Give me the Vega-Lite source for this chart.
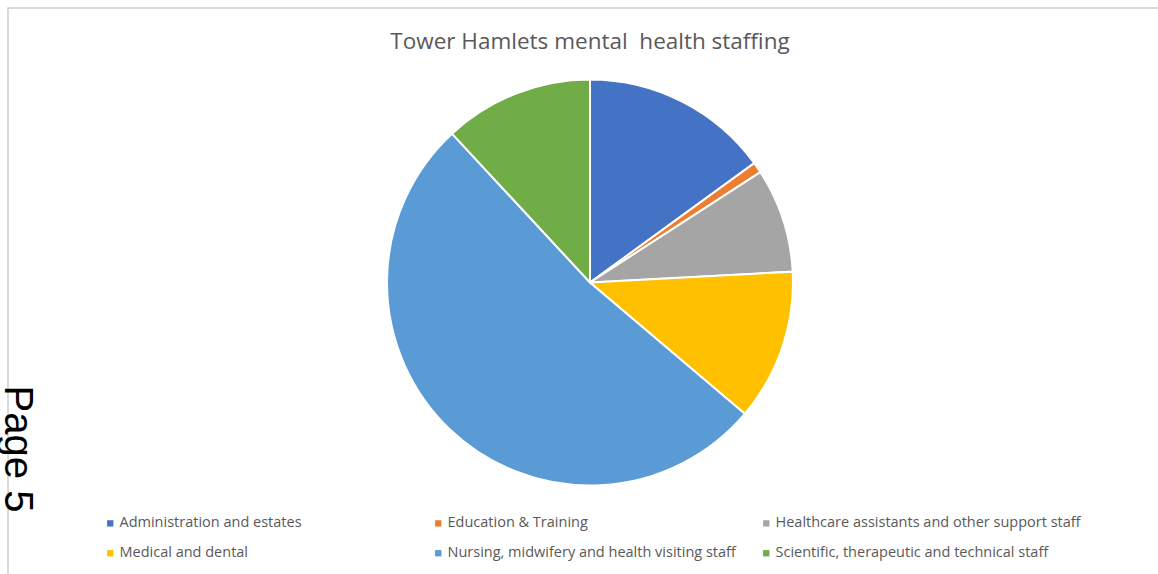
{
  "$schema": "https://vega.github.io/schema/vega-lite/v6.json",
  "autosize": {"type": "none"},
  "width": 1164,
  "height": 567,
  "padding": {"left": 8, "top": 8, "right": -14, "bottom": -1},
  "background": "white",
  "view": {"stroke": "#cfcfcf", "strokeWidth": 1.5},
  "title": {
    "text": "Tower Hamlets mental\u00a0 health staffing",
    "font": "Open Sans",
    "fontSize": 22.5,
    "fontWeight": "normal",
    "color": "#595959",
    "offset": -45,
    "anchor": "middle"
  },
  "config": {"view": {"stroke": "#cfcfcf", "strokeWidth": 1.5}, "style": {"cell": {"stroke": "#cfcfcf", "strokeWidth": 1.5}}},
  "layer": [
    {
      "data": {
        "values": [
          {"idx": 1, "category": "Administration and estates", "share": 15.0},
          {"idx": 2, "category": "Education & Training", "share": 0.85},
          {"idx": 3, "category": "Healthcare assistants and other support staff", "share": 8.3},
          {"idx": 4, "category": "Medical and dental", "share": 12.05},
          {"idx": 5, "category": "Nursing, midwifery and health visiting staff", "share": 51.9},
          {"idx": 6, "category": "Scientific, therapeutic and technical staff", "share": 11.9}
        ]
      },
      "mark": {"type": "arc", "radius": 203, "stroke": "white", "strokeWidth": 2, "yOffset": -9},
      "encoding": {
        "theta": {"field": "share", "type": "quantitative", "stack": true},
        "order": {"field": "idx", "type": "quantitative"},
        "color": {
          "field": "category",
          "type": "nominal",
          "scale": {
            "domain": [
              "Administration and estates",
              "Education & Training",
              "Healthcare assistants and other support staff",
              "Medical and dental",
              "Nursing, midwifery and health visiting staff",
              "Scientific, therapeutic and technical staff"
            ],
            "range": ["#4472C4", "#ED7D31", "#A5A5A5", "#FFC000", "#5B9BD5", "#70AD47"]
          },
          "legend": {
            "orient": "none",
            "legendX": 95,
            "legendY": 508,
            "direction": "horizontal",
            "columns": 3,
            "gridAlign": "all",
            "columnPadding": 6,
            "rowPadding": 15,
            "title": null,
            "symbolType": "square",
            "symbolSize": 40,
            "symbolStrokeWidth": 0,
            "symbolOpacity": 1,
            "labelFont": "Open Sans",
            "labelFontSize": 14.5,
            "labelColor": "#595959",
            "labelOffset": 2,
            "labelLimit": 400
          }
        }
      }
    },
    {
      "data": {"values": [{"note": "Page 5"}]},
      "mark": {
        "type": "text",
        "angle": 90,
        "font": "Liberation Sans",
        "fontSize": 40,
        "color": "black",
        "align": "center",
        "baseline": "middle",
        "xOffset": -573,
        "yOffset": 157.5
      },
      "encoding": {"text": {"field": "note", "type": "nominal"}}
    }
  ]
}
